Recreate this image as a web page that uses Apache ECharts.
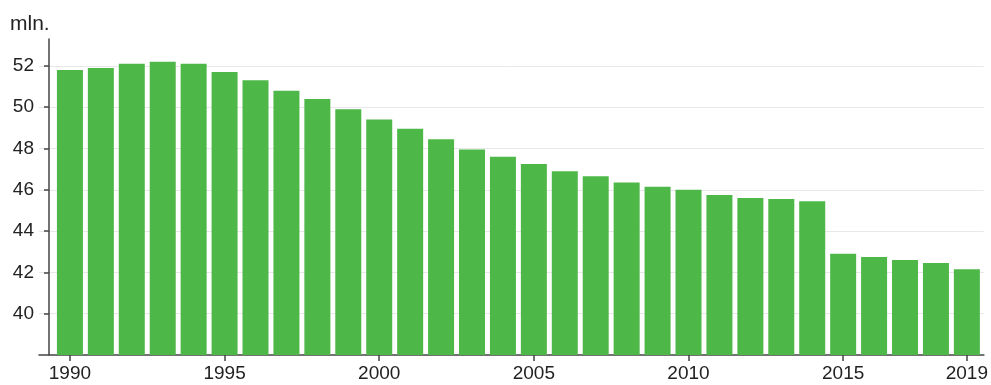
<!DOCTYPE html>
<html>
<head>
<meta charset="utf-8">
<script src="https://cdn.jsdelivr.net/npm/echarts@6/dist/echarts.min.js"></script>
<style>
  html, body { margin: 0; padding: 0; background: #fff; }
  #chart { width: 991px; height: 385px; }
</style>
</head>
<body>
<div id="chart"></div>
<script>
// years and population (mln.)
const years = [1990, 1991, 1992, 1993, 1994, 1995, 1996, 1997, 1998, 1999,
    2000, 2001, 2002, 2003, 2004, 2005, 2006, 2007, 2008, 2009,
    2010, 2011, 2012, 2013, 2014, 2015, 2016, 2017, 2018, 2019];
const population = [51.8, 51.9, 52.1, 52.2, 52.1, 51.7, 51.3, 50.8, 50.4, 49.9,
    49.4, 48.95, 48.45, 47.95, 47.6, 47.25, 46.9, 46.65, 46.35, 46.15,
    46.0, 45.75, 45.6, 45.55, 45.45, 42.9, 42.75, 42.6, 42.45, 42.15];
const yearTicks = [1990, 1995, 2000, 2005, 2010, 2015, 2019];
const valueTicks = [40, 42, 44, 46, 48, 50, 52];

const chart = echarts.init(document.getElementById('chart'));

const option = {
    animation: false,
    textStyle: { fontFamily: 'Liberation Sans' },
    title: {
        text: 'mln.',
        left: 5,
        top: 9,
        textStyle: { fontSize: 21, fontWeight: 'normal', color: '#222' }
    },
    grid: { left: 39, right: 6, top: 39, bottom: 30 },
    xAxis: {
        type: 'value',
        min: 1989,
        max: 2019.55,
        splitLine: { show: false },
        axisLine: { lineStyle: { color: '#444', width: 1.5 } },
        axisTick: {
            customValues: yearTicks,
            length: 6,
            lineStyle: { color: '#444', width: 1.5 }
        },
        axisLabel: {
            customValues: yearTicks,
            formatter: v => String(v),
            fontSize: 19,
            color: '#222',
            margin: 9
        }
    },
    yAxis: {
        type: 'value',
        min: 38,
        max: 53.3,
        offset: -10,
        axisLine: { show: true, lineStyle: { color: '#444', width: 1.5 } },
        axisTick: {
            show: true,
            customValues: valueTicks,
            length: 5,
            lineStyle: { color: '#444', width: 1.5 }
        },
        axisLabel: {
            customValues: valueTicks,
            fontSize: 19,
            color: '#222',
            margin: 15
        },
        splitLine: { show: true, lineStyle: { color: '#e8e8e8', width: 1 } }
    },
    series: [{
        type: 'bar',
        barWidth: 26,
        data: years.map((y, i) => [y, population[i]]),
        itemStyle: { color: '#4db848' }
    }]
};

chart.setOption(option);
</script>
</body>
</html>
